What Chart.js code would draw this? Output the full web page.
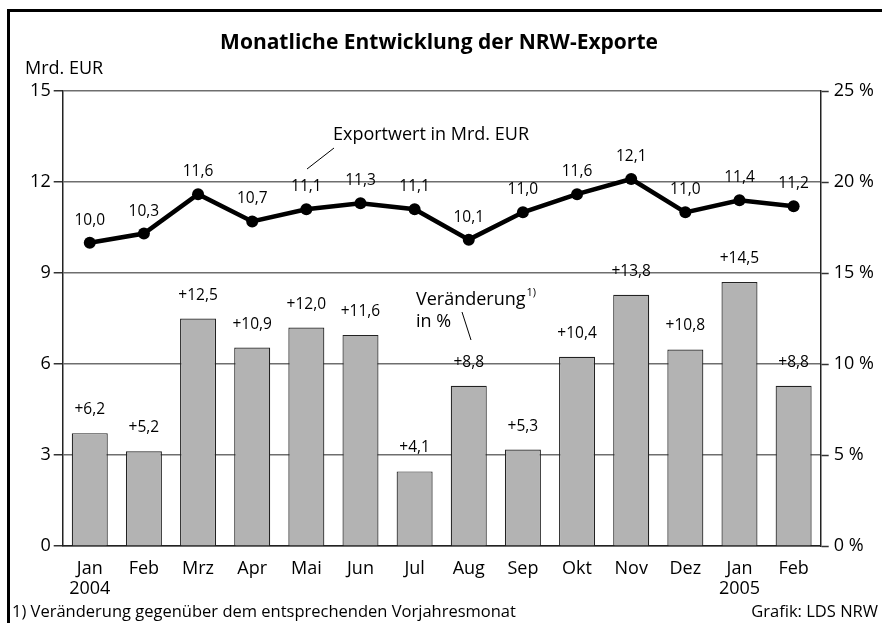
<!DOCTYPE html>
<html>
<head>
<meta charset="utf-8">
<script src="https://cdn.jsdelivr.net/npm/chart.js@4.4.1/dist/chart.umd.min.js"></script>
<style>
  html, body { margin: 0; padding: 0; background: #fff; overflow: hidden; }
  #wrap { position: relative; width: 882px; height: 623px; overflow: hidden; }
  #frame { position: absolute; left: 7px; top: 9px; width: 900px; height: 700px;
           border-left: 3px solid #000; border-top: 3px solid #000; }
  canvas { position: absolute; left: 0; top: 0; }
</style>
</head>
<body>
<div id="wrap">
  <div id="frame"></div>
  <canvas id="myChart" width="882" height="623"></canvas>
</div>
<script>
const months = [["Jan", "2004"], "Feb", "Mrz", "Apr", "Mai", "Jun", "Jul",
  "Aug", "Sep", "Okt", "Nov", "Dez", ["Jan", "2005"], "Feb"];
const exportValues = [10.0, 10.3, 11.6, 10.7, 11.1, 11.3, 11.1, 10.1, 11.0, 11.6, 12.1, 11.0, 11.4, 11.2];
const changePercent = [6.2, 5.2, 12.5, 10.9, 12.0, 11.6, 4.1, 8.8, 5.3, 10.4, 13.8, 10.8, 14.5, 8.8];
const leftTicks = [0, 3, 6, 9, 12, 15];
const rightTicks = [0, 5, 10, 15, 20, 25];

const FONT = "'Open Sans', 'DejaVu Sans', sans-serif";
const fmt = (v) => v.toFixed(1).replace(".", ",");

const textPlugin = {
  id: "texts",
  afterDraw(chart) {
    const c = chart.ctx;
    c.save();
    c.fillStyle = "#000";
    c.strokeStyle = "#000";

    // title
    c.font = "bold 21px " + FONT;
    c.textAlign = "center";
    c.textBaseline = "middle";
    c.fillText("Monatliche Entwicklung der NRW-Exporte", 439, 43);

    // unit
    c.font = "18px " + FONT;
    c.textAlign = "left";
    c.fillText("Mrd. EUR", 25, 69);

    // value labels on the line
    c.textAlign = "center";
    c.textBaseline = "alphabetic";
    c.font = "15.5px " + FONT;
    chart.getDatasetMeta(0).data.forEach((pt, i) => {
      c.fillText(fmt(exportValues[i]), pt.x, pt.y - 18);
    });
    // value labels on the bars
    chart.getDatasetMeta(1).data.forEach((bar, i) => {
      c.fillText("+" + fmt(changePercent[i]), bar.x, bar.y - 19);
    });

    // annotations
    c.font = "18px " + FONT;
    c.textAlign = "left";
    c.textBaseline = "middle";
    c.fillText("Exportwert in Mrd. EUR", 333, 135);
    c.lineWidth = 1;
    c.beginPath();
    c.moveTo(307, 169);
    c.lineTo(334, 148);
    c.stroke();

    c.fillText("Veränderung", 416, 300);
    const w = c.measureText("Veränderung").width;
    c.fillText("in %", 416, 322);
    c.font = "11px " + FONT;
    c.fillText("1)", 416 + w + 1, 293);
    c.beginPath();
    c.moveTo(462, 312);
    c.lineTo(471, 340);
    c.stroke();

    // footer
    c.font = "16.5px " + FONT;
    c.textAlign = "left";
    c.fillText("1) Veränderung gegenüber dem entsprechenden Vorjahresmonat", 12, 612);
    c.textAlign = "right";
    c.fillText("Grafik: LDS NRW", 878, 612);
    c.restore();
  }
};

const ctx = document.getElementById("myChart");
new Chart(ctx, {
  data: {
    labels: months,
    datasets: [
      {
        type: "line",
        label: "Exportwert in Mrd. EUR",
        data: exportValues,
        yAxisID: "y",
        order: 0,
        borderColor: "#000",
        borderWidth: 4.5,
        pointRadius: 6,
        pointBackgroundColor: "#000",
        pointBorderColor: "#000",
        pointBorderWidth: 0,
        tension: 0,
      },
      {
        type: "bar",
        label: "Veränderung in %",
        data: changePercent,
        yAxisID: "y1",
        order: 1,
        backgroundColor: "#b3b3b3",
        borderColor: "#222",
        borderWidth: 1.2,
        barPercentage: 0.665,
        categoryPercentage: 1,
      },
    ],
  },
  options: {
    responsive: false,
    animation: false,
    layout: { padding: { top: 91, left: 0, right: 0, bottom: 0 } },
    plugins: { legend: { display: false }, tooltip: { enabled: false }, title: { display: false } },
    scales: {
      x: {
        grid: { display: false },
        border: { color: "#222", width: 1.5 },
        ticks: { color: "#000", font: { family: FONT, size: 18, lineHeight: 1.12 }, padding: 5, maxRotation: 0, autoSkip: false },
        afterFit(s) { s.height = 77; },
      },
      y: {
        position: "left",
        min: 0,
        max: 15,
        afterBuildTicks(s) { s.ticks = leftTicks.map((v) => ({ value: v })); },
        ticks: { color: "#000", font: { family: FONT, size: 18 }, padding: 3 },
        grid: { color: "#6e6e6e", lineWidth: 1.5, tickLength: 9, tickColor: "#333", tickWidth: 1.5 },
        border: { color: "#222", width: 1.5 },
        afterFit(s) { s.width = 62.7; },
      },
      y1: {
        position: "right",
        min: 0,
        max: 25,
        afterBuildTicks(s) { s.ticks = rightTicks.map((v) => ({ value: v })); },
        ticks: { color: "#000", font: { family: FONT, size: 18 }, padding: 5, callback: (v) => v + " %" },
        grid: { drawOnChartArea: false, tickLength: 8, tickColor: "#333", tickWidth: 1.5 },
        border: { color: "#222", width: 1.5 },
        afterFit(s) { s.width = 61.3; },
      },
    },
  },
  plugins: [textPlugin],
});
</script>
</body>
</html>
